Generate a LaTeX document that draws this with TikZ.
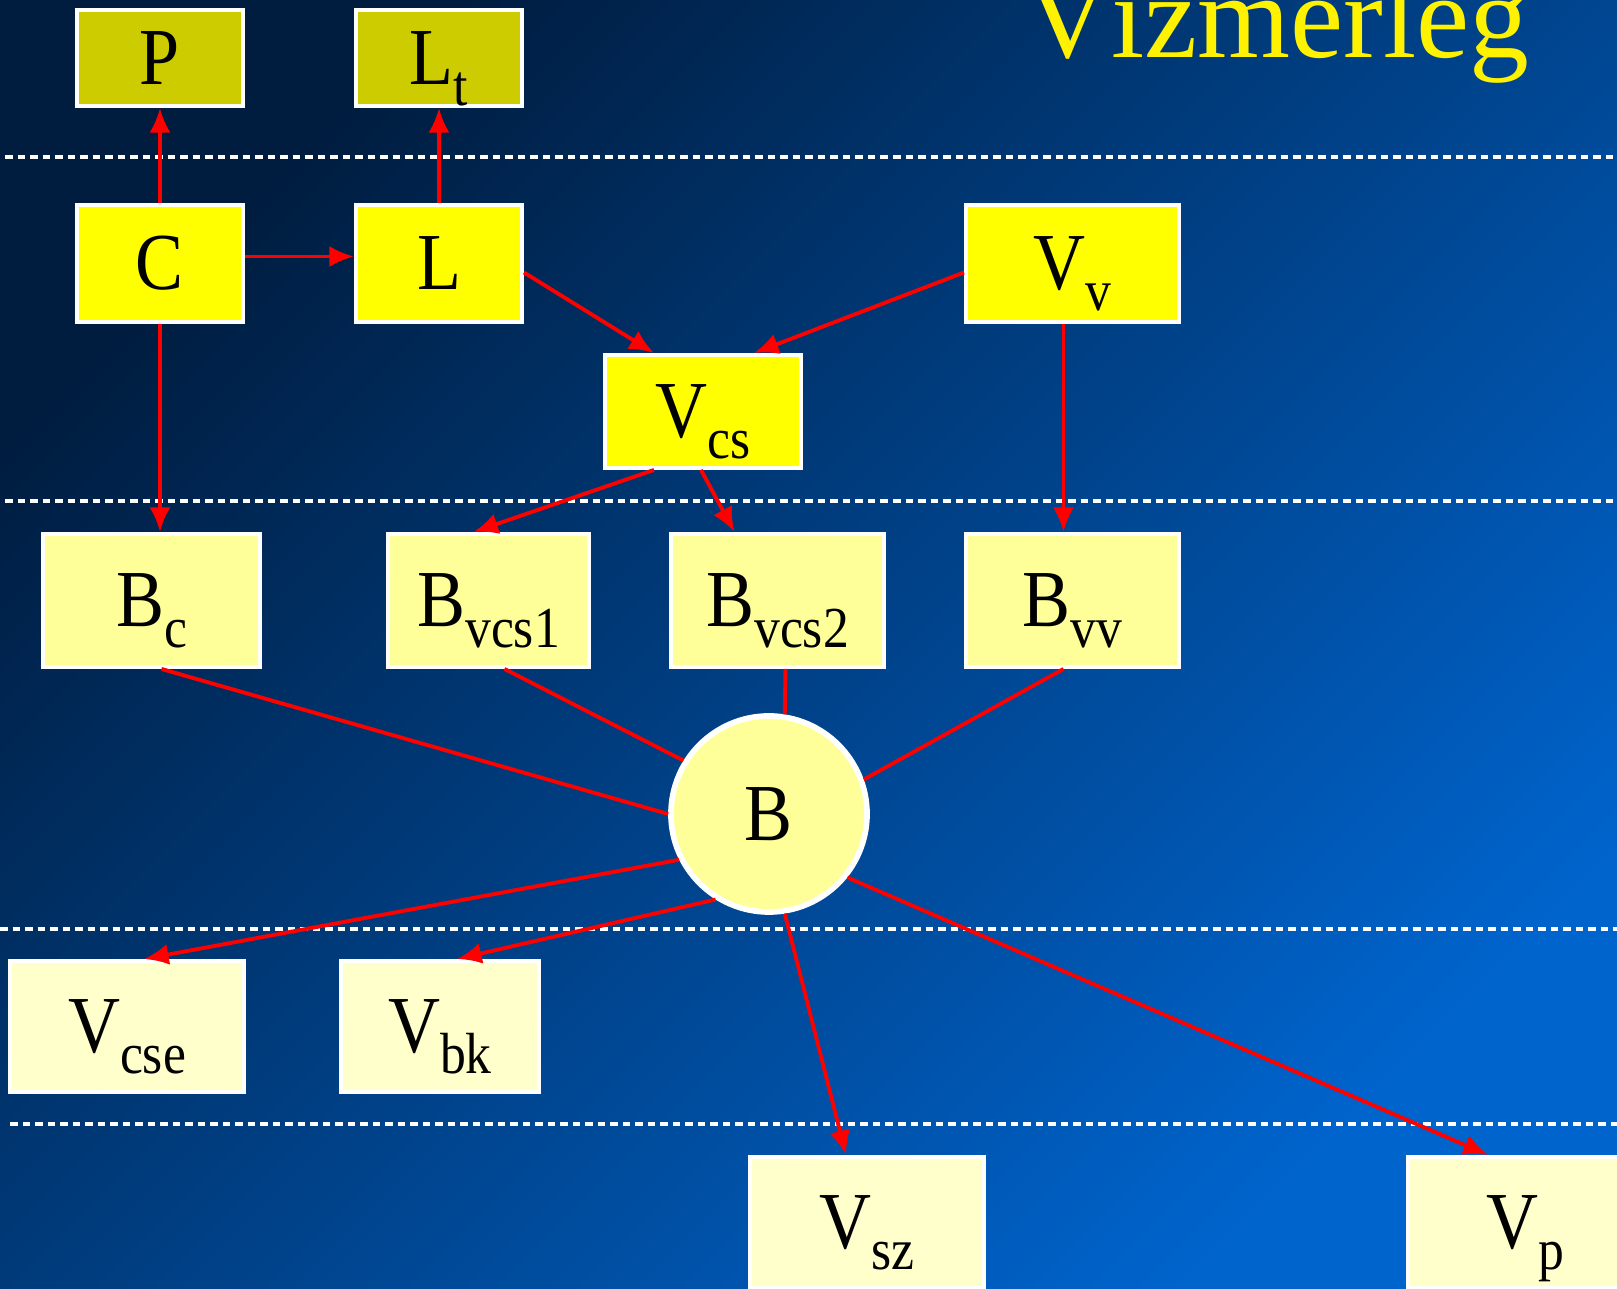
\documentclass[tikz,border=0pt]{standalone}
\usepackage{fontspec}
\setmainfont{Liberation Serif}[FakeStretch=0.89]
\newfontfamily\titlefont{Liberation Serif}
\usetikzlibrary{arrows.meta,calc}

\definecolor{bgtop}{RGB}{0,28,62}
\definecolor{bgbot}{RGB}{0,100,205}
\definecolor{olivebox}{RGB}{204,204,0}
\definecolor{brightbox}{RGB}{255,255,0}
\definecolor{paleybox}{RGB}{255,255,153}
\definecolor{creambox}{RGB}{255,255,204}

\newcommand{\idx}[1]{\raisebox{-6pt}{\fontsize{16.5}{17}\selectfont #1}}

\begin{document}
\begin{tikzpicture}[x=0.01cm, y=-0.01cm,
  every node/.style={font=\fontsize{23}{25}\selectfont},
  block/.style={draw=white, line width=1.1pt, inner sep=0pt, text height=15pt, text depth=0pt},
  output/.style={block, fill=olivebox, minimum width=1.66cm, minimum height=0.96cm},
  source/.style={block, fill=brightbox, minimum height=1.17cm},
  store/.style={block, fill=paleybox, minimum height=1.33cm},
  sink/.style={block, fill=creambox, minimum height=1.31cm},
  arrow/.style={-{Latex[length=7pt, width=6pt]}, red, line width=1.1pt},
  link/.style={red, line width=1.1pt},
  divider/.style={white, line width=1.1pt, dash pattern=on 0.75mm off 0.5mm}
]
\useasboundingbox (0,0) rectangle (1617,1289);
\shade[top color=bgtop, bottom color=bgbot, shading angle=45] (0,0) rectangle (1617,1289);

% dotted level separators
\draw[divider] (5,157) -- (1617,157);
\draw[divider] (5,501) -- (1617,501);
\draw[divider] (0,929) -- (1617,929);
\draw[divider] (10,1124) -- (1617,1124);

\node[text=yellow, font=\titlefont\fontsize{34}{38}\selectfont, anchor=base] (title) at (1277,58) {Vízmérleg};

\node[output] (P) at (160,58) {P};
\node[output] (Lt) at (439,58) {L\idx{t}};
\node[source, minimum width=1.66cm] (C) at (160,263.5) {C};
\node[source, minimum width=1.66cm] (L) at (439,263.5) {L};
\node[source, minimum width=2.13cm] (Vv) at (1072.5,263.5) {V\idx{v}};
\node[source, minimum width=1.96cm, minimum height=1.13cm] (Vcs) at (703,411.5) {V\idx{cs}};

\node[store, minimum width=2.17cm] (Bc) at (151.5,600.5) {B\idx{c}};
\node[store, minimum width=2.01cm] (Bvcs1) at (488.5,600.5) {B\idx{vcs1}};
\node[store, minimum width=2.13cm] (Bvcs2) at (777.5,600.5) {B\idx{vcs2}};
\node[store, minimum width=2.13cm] (Bvv) at (1072.5,600.5) {B\idx{vv}};
\node[circle, draw=white, fill=paleybox, line width=1.6pt, minimum size=1.96cm, inner sep=0pt] (B) at (769,814) {B};

\node[sink, minimum width=2.34cm] (Vcse) at (127,1026.5) {V\idx{cse}};
\node[sink, minimum width=1.98cm] (Vbk) at (440,1026.5) {V\idx{bk}};
\node[sink, minimum width=2.34cm] (Vsz) at (867,1222.5) {V\idx{sz}};
\node[sink, minimum width=2.34cm] (Vp) at (1525,1222.5) {V\idx{p}};

\draw[arrow] (C) -- (P);
\draw[arrow] (L) -- (Lt);
\draw[arrow] ($(C.east)+(0,-7)$) -- ($(L.west)+(0,-7)$);
\draw[arrow] ($(L.east)+(0,9)$) -- ($(Vcs.north)+(-49,0)$);
\draw[arrow] ($(Vv.west)+(0,9)$) -- ($(Vcs.north)+(51,0)$);
\draw[arrow] (C.south) -- (C.south |- Bc.north);
\draw[arrow] ($(Vv.south)+(-9,0)$) -- ($(Bvv.north)+(-9,0)$);
\draw[arrow] ($(Vcs.south)+(-49,0)$) -- ($(Bvcs1.north)+(-15,0)$);
\draw[arrow] ($(Vcs.south)+(-2,0)$) -- ($(Bvcs2.north)+(-43,0)$);

\draw[link] ($(Bc.south)+(10,0)$) -- (B.west);
\draw[link] ($(Bvcs1.south)+(16,0)$) -- (B.148);
\draw[link] ($(Bvcs2.south)+(8,0)$) -- (B.81);
\draw[link] ($(Bvv.south)+(-9,0)$) -- (B.20);

\draw[arrow] (B.207) -- ($(Vcse.north)+(17,0)$);
\draw[arrow] (B.238) -- ($(Vbk.north)+(17,0)$);
\draw[arrow] (B.279) -- ($(Vsz.north)+(-21,0)$);
\draw[arrow] (B.321) -- ($(Vp.north)+(-37,0)$);
\end{tikzpicture}
\end{document}
